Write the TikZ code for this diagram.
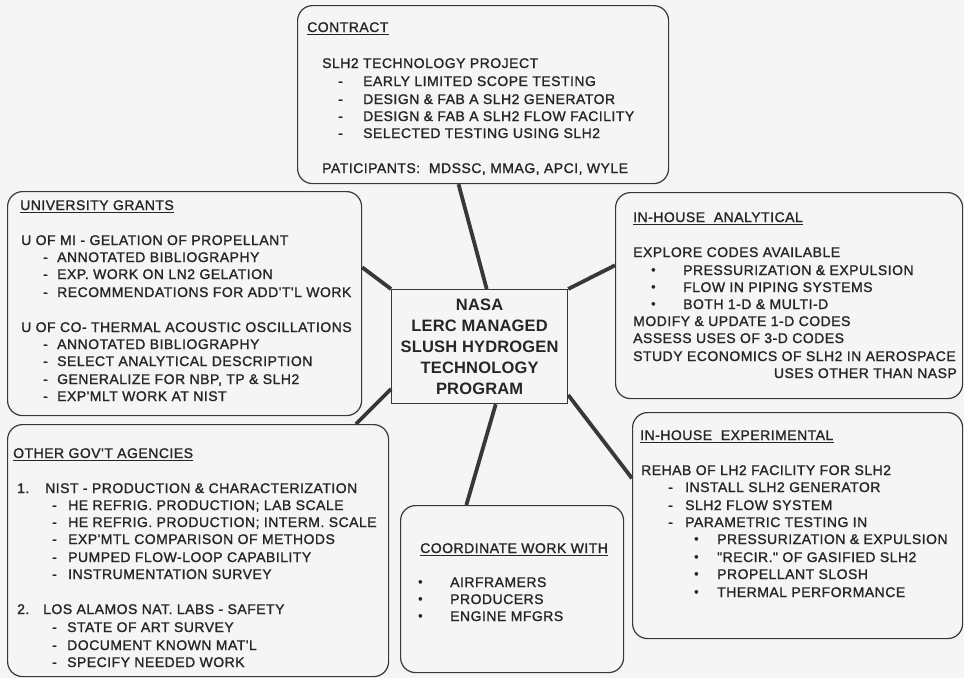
\documentclass[tikz,border=0pt]{standalone}
\usepackage{fontspec}
\newfontfamily\bodyfont{Liberation Sans}[LetterSpace=3.5, FakeBold=1.3]
\newfontfamily\ctrfont{Liberation Sans Bold}[LetterSpace=1]
\usetikzlibrary{calc}
\definecolor{bg}{HTML}{F5F5F5}
\definecolor{ink}{HTML}{262626}
\definecolor{edge}{HTML}{383838}
\newcount\tn
\newcommand\tx[3]{\global\advance\tn by 1 \node[txt] (t\the\tn) at (#1,#2) {#3};}
\newcommand\bul{\raisebox{1pt}{\fontsize{12.5}{12.5}\selectfont •}}
\begin{document}
\begin{tikzpicture}[x=1pt,y=-1pt,
  box/.style={draw=edge, line width=1.2pt, rounded corners=15pt, anchor=north west, inner sep=0pt},
  ctr/.style={draw=edge, line width=1.2pt, anchor=north west, inner sep=0pt, align=center,
     font=\fontsize{16.5}{21}\ctrfont, text=ink},
  txt/.style={anchor=base west, inner sep=0pt, text=ink, font=\fontsize{14}{17}\bodyfont},
  hd/.style={txt},
  ul/.style={draw=ink, line width=0.9pt},
  conn/.style={draw=edge, line width=3.8pt}]
\useasboundingbox (0,0) rectangle (964,678);
\fill[bg] (0,0) rectangle (964,678);

% boxes
\node[box, minimum width=371pt, minimum height=178pt] (contract) at (297,5) {};
\node[box, minimum width=354pt, minimum height=224pt] (ug) at (7,191) {};
\node[box, minimum width=347pt, minimum height=206pt] (iha) at (615,192) {};
\node[box, minimum width=381pt, minimum height=252pt] (oga) at (7,424) {};
\node[box, minimum width=223pt, minimum height=167pt] (coord) at (400,505) {};
\node[box, minimum width=330pt, minimum height=226pt] (ihe) at (632,412) {};
\node[ctr, minimum width=176pt, minimum height=114pt] (nasa) at (391,289)
  {NASA\\LERC MANAGED\\SLUSH HYDROGEN\\TECHNOLOGY\\PROGRAM};

% connectors
\draw[conn] ($(contract.south west)!0.434!(contract.south east)$) -- ($(nasa.north west)!0.54!(nasa.north east)$);
\draw[conn] ($(ug.north east)!0.339!(ug.south east)$) -- (nasa.north west);
\draw[conn] ($(iha.north west)!0.354!(iha.south west)$) -- (nasa.north east);
\draw[conn] ($(oga.north west)!0.913!(oga.north east)$) -- ($(nasa.north west)!0.868!(nasa.south west)$);
\draw[conn] ($(coord.north west)!0.296!(coord.north east)$) -- ($(nasa.south west)!0.591!(nasa.south east)$);
\draw[conn] ($(ihe.north west)!0.292!(ihe.south west)$) -- ($(nasa.north east)!0.92!(nasa.south east)$);

% CONTRACT
\node[hd] (hcon) at (307,32) {CONTRACT};
\draw[ul] ([yshift=-2.5pt]hcon.base west) -- ([yshift=-2.5pt]hcon.base east);
\tx{322}{68}{SLH2 TECHNOLOGY PROJECT}
\tx{338}{86}{-}\tx{363}{86}{EARLY LIMITED SCOPE TESTING}
\tx{338}{104}{-}\tx{363}{104}{DESIGN \& FAB A SLH2 GENERATOR}
\tx{338}{121}{-}\tx{363}{121}{DESIGN \& FAB A SLH2 FLOW FACILITY}
\tx{338}{138}{-}\tx{363}{138}{SELECTED TESTING USING SLH2}
\tx{322}{173}{PATICIPANTS:\ \ MDSSC, MMAG, APCI, WYLE}

% UNIVERSITY GRANTS
\node[hd] (hug) at (20,210) {UNIVERSITY GRANTS};
\draw[ul] ([yshift=-2.5pt]hug.base west) -- ([yshift=-2.5pt]hug.base east);
\tx{21}{245}{U OF MI - GELATION OF PROPELLANT}
\tx{43}{262}{-}\tx{57}{262}{ANNOTATED BIBLIOGRAPHY}
\tx{43}{279}{-}\tx{57}{279}{EXP. WORK ON LN2 GELATION}
\tx{43}{297}{-}\tx{57}{297}{RECOMMENDATIONS FOR ADD'T'L WORK}
\tx{21}{332}{U OF CO- THERMAL ACOUSTIC OSCILLATIONS}
\tx{43}{349}{-}\tx{57}{349}{ANNOTATED BIBLIOGRAPHY}
\tx{43}{366}{-}\tx{57}{366}{SELECT ANALYTICAL DESCRIPTION}
\tx{43}{384}{-}\tx{57}{384}{GENERALIZE FOR NBP, TP \& SLH2}
\tx{43}{401}{-}\tx{57}{401}{EXP'MLT WORK AT NIST}

% IN-HOUSE ANALYTICAL
\node[hd] (hiha) at (633,222) {IN-HOUSE\ \ ANALYTICAL};
\draw[ul] ([yshift=-2.5pt]hiha.base west) -- ([yshift=-2.5pt]hiha.base east);
\tx{633}{257}{EXPLORE CODES AVAILABLE}
\tx{651}{275}{\bul}\tx{683}{275}{PRESSURIZATION \& EXPULSION}
\tx{651}{292}{\bul}\tx{683}{292}{FLOW IN PIPING SYSTEMS}
\tx{651}{309}{\bul}\tx{683}{309}{BOTH 1-D \& MULTI-D}
\tx{633}{326}{MODIFY \& UPDATE 1-D CODES}
\tx{633}{343}{ASSESS USES OF 3-D CODES}
\tx{633}{361}{STUDY ECONOMICS OF SLH2 IN AEROSPACE}
\node[txt, anchor=base east] (t99) at (957,378) {USES OTHER THAN NASP};

% OTHER GOV'T AGENCIES
\node[hd] (hoga) at (13,458) {OTHER GOV'T AGENCIES};
\draw[ul] ([yshift=-2.5pt]hoga.base west) -- ([yshift=-2.5pt]hoga.base east);
\tx{17}{493}{1.}\tx{45}{493}{NIST - PRODUCTION \& CHARACTERIZATION}
\tx{52}{510}{-}\tx{68}{510}{HE REFRIG. PRODUCTION; LAB SCALE}
\tx{52}{527}{-}\tx{68}{527}{HE REFRIG. PRODUCTION; INTERM. SCALE}
\tx{52}{544}{-}\tx{68}{544}{EXP'MTL COMPARISON OF METHODS}
\tx{52}{562}{-}\tx{68}{562}{PUMPED FLOW-LOOP CAPABILITY}
\tx{52}{579}{-}\tx{68}{579}{INSTRUMENTATION SURVEY}
\tx{17}{614}{2.}\tx{43}{614}{LOS ALAMOS NAT. LABS - SAFETY}
\tx{52}{632}{-}\tx{67}{632}{STATE OF ART SURVEY}
\tx{52}{650}{-}\tx{67}{650}{DOCUMENT KNOWN MAT'L}
\tx{52}{667}{-}\tx{67}{667}{SPECIFY NEEDED WORK}

% COORDINATE WORK WITH
\node[hd] (hco) at (420,553) {COORDINATE WORK WITH};
\draw[ul] ([yshift=-2.5pt]hco.base west) -- ([yshift=-2.5pt]hco.base east);
\tx{418}{587}{\bul}\tx{450}{587}{AIRFRAMERS}
\tx{418}{604}{\bul}\tx{450}{604}{PRODUCERS}
\tx{418}{621}{\bul}\tx{450}{621}{ENGINE MFGRS}

% IN-HOUSE EXPERIMENTAL
\node[hd] (hihe) at (640,440) {IN-HOUSE\ \ EXPERIMENTAL};
\draw[ul] ([yshift=-2.5pt]hihe.base west) -- ([yshift=-2.5pt]hihe.base east);
\tx{641}{475}{REHAB OF LH2 FACILITY FOR SLH2}
\tx{668}{492}{-}\tx{685}{492}{INSTALL SLH2 GENERATOR}
\tx{668}{510}{-}\tx{685}{510}{SLH2 FLOW SYSTEM}
\tx{668}{527}{-}\tx{685}{527}{PARAMETRIC TESTING IN}
\tx{694}{544}{\bul}\tx{717}{544}{PRESSURIZATION \& EXPULSION}
\tx{694}{562}{\bul}\tx{717}{562}{"RECIR." OF GASIFIED SLH2}
\tx{694}{579}{\bul}\tx{717}{579}{PROPELLANT SLOSH}
\tx{694}{597}{\bul}\tx{717}{597}{THERMAL PERFORMANCE}
\end{tikzpicture}
\end{document}
